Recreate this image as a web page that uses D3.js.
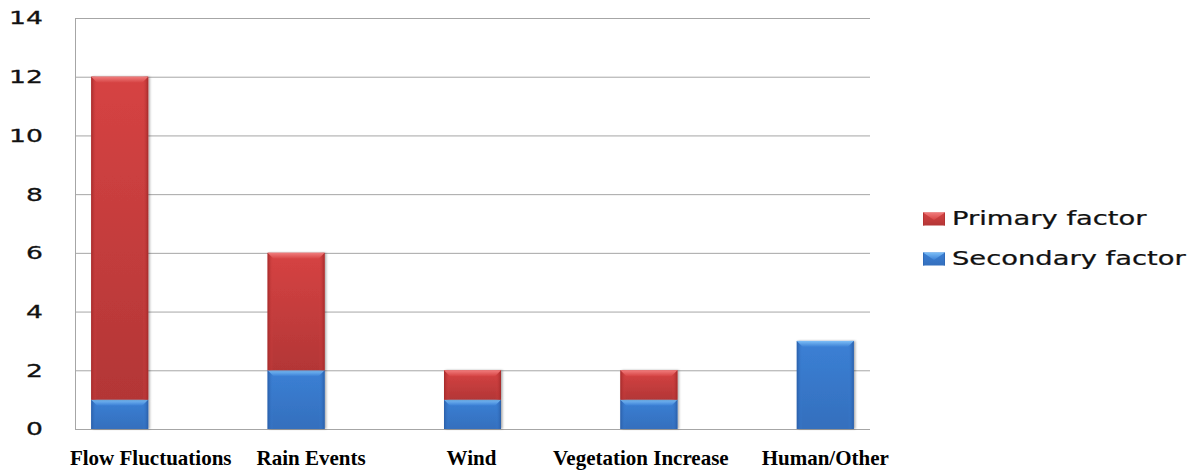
<!DOCTYPE html>
<html>
<head>
<meta charset="utf-8">
<script src="https://cdn.jsdelivr.net/npm/d3@7/dist/d3.min.js"></script>
<style>
  html, body { margin: 0; padding: 0; background: #ffffff; }
  svg { display: block; }
</style>
</head>
<body>
<svg id="chart" width="1195" height="470"></svg>
<script>
// Contributing factors per category
const categories = ["Flow Fluctuations", "Rain Events", "Wind", "Vegetation Increase", "Human/Other"];
const secondaryFactor = [1, 2, 1, 1, 3];
const primaryFactor = [11, 4, 1, 1, 0];
const yTicks = [0, 2, 4, 6, 8, 10, 12, 14];
const seriesNames = ["Primary factor", "Secondary factor"];

const svg = d3.select("#chart");
const plot = { left: 75, right: 870, top: 18, bottom: 429 };
const stretch = 1.44; // horizontal stretch of the chart text

const x = d3.scaleBand()
  .domain(categories)
  .range([plot.left, plot.right])
  .paddingInner(0.677)
  .paddingOuter(0.092);

const y = d3.scaleLinear().domain([0, 14]).range([plot.bottom, plot.top]);

const palette = {
  "Primary factor":   { main: "#d64343", dark: "#a32a2a", light: "#f07c7c", bottom: "#b33636" },
  "Secondary factor": { main: "#3b80d5", dark: "#2a5ea8", light: "#7cbef7", bottom: "#346fbd" }
};

// Gradients for the bevelled bars
const defs = svg.append("defs");
Object.entries(palette).forEach(([name, c], i) => {
  const h = defs.append("linearGradient").attr("id", "side" + i)
    .attr("x1", "0").attr("x2", "1").attr("y1", "0").attr("y2", "0");
  h.append("stop").attr("offset", "0").attr("stop-color", c.dark);
  h.append("stop").attr("offset", "0.1").attr("stop-color", c.main).attr("stop-opacity", 0);
  h.append("stop").attr("offset", "0.9").attr("stop-color", c.main).attr("stop-opacity", 0);
  h.append("stop").attr("offset", "1").attr("stop-color", c.dark);

  const v = defs.append("linearGradient").attr("id", "body" + i)
    .attr("x1", "0").attr("x2", "0").attr("y1", "0").attr("y2", "1");
  v.append("stop").attr("offset", "0").attr("stop-color", c.main);
  v.append("stop").attr("offset", "1").attr("stop-color", c.bottom);

  const t = defs.append("linearGradient").attr("id", "top" + i)
    .attr("x1", "0").attr("x2", "0").attr("y1", "0").attr("y2", "1");
  t.append("stop").attr("offset", "0").attr("stop-color", c.light);
  t.append("stop").attr("offset", "1").attr("stop-color", c.main);
});

const shadow = defs.append("filter").attr("id", "shadow")
  .attr("x", "-20%").attr("y", "-5%").attr("width", "140%").attr("height", "110%");
shadow.append("feDropShadow").attr("dx", 1.5).attr("dy", 0).attr("stdDeviation", 1)
  .attr("flood-color", "#000").attr("flood-opacity", 0.35);

// Gridlines
svg.append("g")
  .selectAll("line")
  .data(yTicks)
  .join("line")
  .attr("x1", plot.left).attr("x2", plot.right)
  .attr("y1", d => y(d) + 0.5).attr("y2", d => y(d) + 0.5)
  .attr("stroke", "#a6a6a6").attr("stroke-width", 1);

// Vertical axis line
svg.append("line")
  .attr("x1", plot.left + 0.5).attr("x2", plot.left + 0.5)
  .attr("y1", y(14)).attr("y2", y(0) + 1)
  .attr("stroke", "#a6a6a6").attr("stroke-width", 1);

// Y tick labels
svg.append("g")
  .selectAll("text")
  .data(yTicks)
  .join("text")
  .attr("transform", d => `translate(43,${y(d)}) scale(${stretch},1)`)
  .attr("text-anchor", "end")
  .attr("dominant-baseline", "central")
  .attr("font-family", "DejaVu Sans, sans-serif")
  .attr("font-size", 18.5)
  .attr("fill", "#111")
  .attr("stroke", "#111").attr("stroke-width", 0.3)
  .text(d => d);

// Stacked segments: secondary at the bottom, primary above it
const rows = categories.map((c, i) => ({
  category: c, "Secondary factor": secondaryFactor[i], "Primary factor": primaryFactor[i]
}));
const stack = d3.stack().keys(["Secondary factor", "Primary factor"])(rows);

const bw = x.bandwidth();
const bevel = 6;
const barsG = svg.append("g");

stack.forEach(layer => {
  const idx = seriesNames.indexOf(layer.key);
  layer.forEach(seg => {
    const v = seg[1] - seg[0];
    if (v <= 0) return;
    const x0 = x(seg.data.category);
    const yTop = y(seg[1]);
    const yBot = y(seg[0]);
    const g = barsG.append("g");
    g.append("rect")
      .attr("x", x0).attr("y", yTop).attr("width", bw).attr("height", yBot - yTop)
      .attr("fill", `url(#body${idx})`).attr("filter", "url(#shadow)");
    g.append("rect")
      .attr("x", x0).attr("y", yTop).attr("width", bw).attr("height", yBot - yTop)
      .attr("fill", `url(#side${idx})`);
    g.append("path")
      .attr("d", `M${x0},${yTop} L${x0 + bw},${yTop} L${x0 + bw - bevel},${yTop + bevel} L${x0 + bevel},${yTop + bevel} Z`)
      .attr("fill", `url(#top${idx})`);
  });
});

// Category labels
const labelNudge = [31, 15, -1, -8, 0];
svg.append("g")
  .selectAll("text")
  .data(categories)
  .join("text")
  .attr("x", (d, i) => x(d) + bw / 2 + labelNudge[i])
  .attr("y", 465)
  .attr("text-anchor", "middle")
  .attr("font-family", "Liberation Serif, Times New Roman, serif")
  .attr("font-weight", "bold")
  .attr("font-size", 21)
  .attr("fill", "#000")
  .text(d => d);

// Legend
const legend = svg.append("g");
const legendRows = [219, 259];
seriesNames.forEach((name, i) => {
  const ly = legendRows[i];
  const sx = 923, sw = 22, sh = 13;
  legend.append("rect")
    .attr("x", sx).attr("y", ly - sh / 2).attr("width", sw).attr("height", sh)
    .attr("fill", `url(#body${i})`);
  legend.append("rect")
    .attr("x", sx).attr("y", ly - sh / 2).attr("width", sw).attr("height", sh)
    .attr("fill", `url(#side${i})`);
  legend.append("path")
    .attr("d", `M${sx},${ly - sh / 2} L${sx + sw},${ly - sh / 2} L${sx + sw / 2},${ly + 1} Z`)
    .attr("fill", `url(#top${i})`);
  legend.append("text")
    .attr("transform", `translate(952,${ly}) scale(${stretch},1)`)
    .attr("dominant-baseline", "central")
    .attr("font-family", "DejaVu Sans, sans-serif")
    .attr("font-size", 19)
    .attr("fill", "#111")
    .attr("stroke", "#111").attr("stroke-width", 0.25)
    .text(name);
});
</script>
</body>
</html>
